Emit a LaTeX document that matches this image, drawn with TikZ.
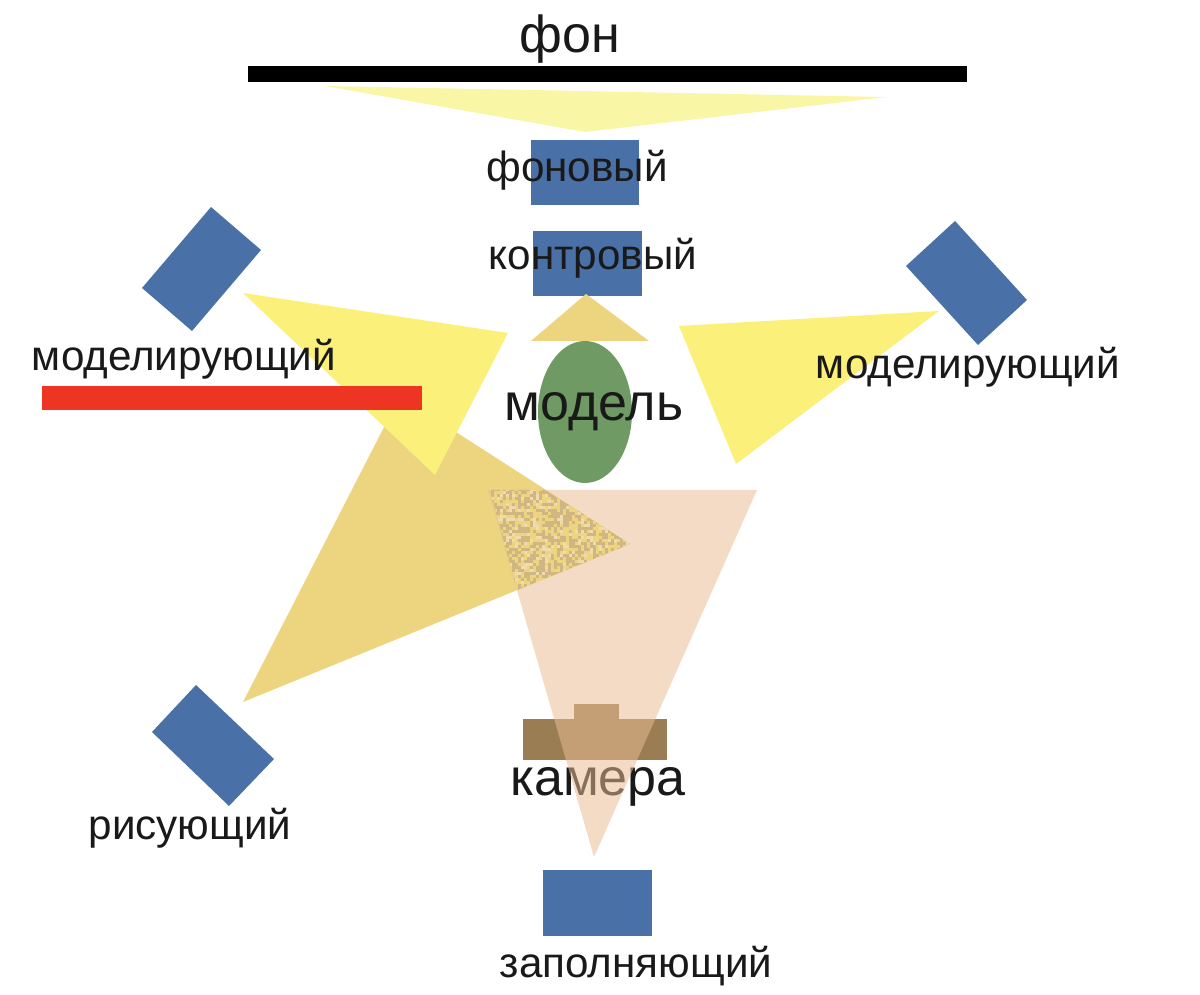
\documentclass[tikz,border=0pt]{standalone}
\usepackage{fontspec}
\setmainfont{Liberation Sans}
\definecolor{lampblue}{HTML}{4A71A7}
\definecolor{beamfaint}{HTML}{F9F7A5}
\definecolor{beamyellow}{HTML}{FAF07A}
\definecolor{beamgold}{HTML}{EDD47F}
\definecolor{beampeach}{HTML}{E9BC93}
\definecolor{modelgreen}{HTML}{6F9A63}
\definecolor{camerabrown}{HTML}{9A7D52}
\definecolor{barred}{HTML}{EE3524}
\definecolor{ditherdark}{HTML}{D0B680}
\definecolor{ditherlight}{HTML}{EFDBAE}
\tikzset{
  lamp/.style={fill=lampblue},
  lamplabel/.style={font=\fontsize{12}{14}\selectfont, text=black!90, inner sep=0pt},
  biglabel/.style={font=\fontsize{14.8}{18}\selectfont, text=black!90, inner sep=0pt}
}
\begin{document}
\begin{tikzpicture}[x=0.01cm, y=-0.01cm]
  \useasboundingbox (0,0) rectangle (1200,995);

  % Background bar
  \fill[black] (248,66) rectangle (967,82);
  \node[biglabel] (bgtext) at (570,39) {фон};

  % Lamps
  \fill[lamp] (531,140) rectangle (639,205);
  \fill[lamp] (533,231) rectangle (642,296);
  \fill[lamp] (543,870) rectangle (652,936);
  \foreach \ax/\ay/\bx/\by/\cx/\cy/\dx/\dy in {211/207/261/250/192/331/142/288,
      955/221/1027/300/978/345/906/266, 196/685/274/759/229/806/152/732} {
    \fill[lamp] (\ax,\ay) -- (\bx,\by) -- (\cx,\cy) -- (\dx,\dy) -- cycle;
  }

  % Light beams
  \fill[beamfaint] (325,86) -- (887,97) -- (585,132) -- cycle;
  \fill[beamgold] (586,294) -- (531,341) -- (649,341) -- cycle;
  \fill[beamgold] (400,396) -- (630,544) -- (243,702) -- cycle;
  \fill[beamyellow] (243,293) -- (508,333) -- (435,475) -- cycle;
  \fill[beamyellow] (939,311) -- (679,326) -- (736,464) -- cycle;

  % Model
  \fill[modelgreen] (585,412) ellipse [x radius=47, y radius=71];
  \node[biglabel] (modeltext) at (594,412) {модель};

  % Camera
  \fill[camerabrown] (523,719) rectangle (667,760);
  \fill[camerabrown] (574,704) rectangle (619,719);
  \node[biglabel] (cameratext) at (598,787) {камера};

  % Camera view
  \fill[beampeach, opacity=0.535] (488,490) -- (757,490) -- (594,857) -- cycle;

  % Dithered overlap
  \begin{scope}
    \clip (490,490) -- (545,490) -- (630,544) -- (517,590) -- cycle;
    \fill[beamgold] (488,488) rectangle (632,592);
    \pgfmathsetseed{7}
    \foreach \x in {488,491,...,630} {
      \foreach \y in {488,491,...,590} {
        \pgfmathparse{rnd<0.45 ? "ditherdark" : (rnd<0.3 ? "ditherlight" : "beamgold")}
        \fill[\pgfmathresult] (\x,\y) rectangle ++(3,3);
      }
    }
  \end{scope}

  % Red bar
  \fill[barred] (42,386) rectangle (422,410);

  % Lamp labels
  \node[lamplabel] (backlabel) at (577,170) {фоновый};
  \node[lamplabel] (rimlabel) at (593,258) {контровый};
  \node[lamplabel] (modleft) at (184,359) {моделирующий};
  \node[lamplabel] (modright) at (968,367) {моделирующий};
  \node[lamplabel] (keylabel) at (190,828) {рисующий};
  \node[lamplabel] (filllabel) at (636,966) {заполняющий};
\end{tikzpicture}
\end{document}
